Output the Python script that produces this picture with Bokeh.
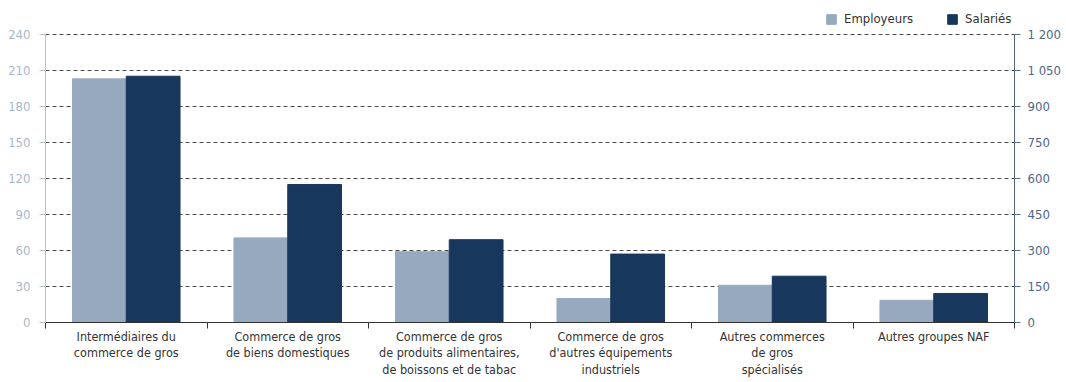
from bokeh.plotting import figure
from bokeh.models import Range1d, LinearAxis, FixedTicker, Legend, LegendItem
from bokeh.embed import file_html
from bokeh.resources import INLINE

categories = [
    "Intermédiaires du\ncommerce de gros",
    "Commerce de gros\nde biens domestiques",
    "Commerce de gros\nde produits alimentaires,\nde boissons et de tabac",
    "Commerce de gros\nd'autres équipements\nindustriels",
    "Autres commerces\nde gros\nspécialisés",
    "Autres groupes NAF",
]
employeurs = [203, 70.5, 59, 20, 31, 18.5]
salaries = [1026, 575, 345, 285, 193, 121]
left_ticks = [0, 30, 60, 90, 120, 150, 180, 210, 240]
right_ticks = [0, 150, 300, 450, 600, 750, 900, 1050, 1200]
right_labels = ["0", "150", "300", "450", "600", "750", "900", "1 050", "1 200"]

FONT = "DejaVu Sans Condensed"
FS = "13px"
FS_CAT = "12.5px"

n = len(categories)
centers = [i + 0.5 for i in range(n)]
bw = 0.333
top_left = 263.3           # headroom above 240 for the legend
top_right = top_left * 5   # right scale is 5x the left one

p = figure(width=1063, height=380, x_range=Range1d(0, n), y_range=Range1d(0, top_left),
           output_backend="svg", toolbar_location=None,
           min_border_left=45, min_border_right=40, min_border_top=6, min_border_bottom=10)
p.extra_y_ranges = {"right": Range1d(0, top_right)}
p.outline_line_color = None

r1 = p.vbar(x=[c - bw / 2 for c in centers], top=employeurs, width=bw, color="#97a9bf")
r2 = p.vbar(x=[c + bw / 2 for c in centers], top=salaries, width=bw, color="#17375c",
            y_range_name="right")

# grid
p.xgrid.visible = False
p.ygrid.ticker = FixedTicker(ticks=left_ticks[1:])
p.ygrid.grid_line_color = "#4a4a4a"
p.ygrid.grid_line_dash = "4 3"
p.ygrid.grid_line_width = 1

# left axis
ya = p.yaxis[0]
ya.ticker = FixedTicker(ticks=left_ticks)
ya.bounds = (0, 240)
ya.axis_line_color = "#b4c2d3"
ya.major_tick_line_color = "#b4c2d3"
ya.major_tick_out = 6
ya.major_tick_in = 0
ya.minor_tick_out = 0
ya.minor_tick_in = 0
ya.major_label_text_color = "#a9b7ca"
ya.major_label_text_font = FONT
ya.major_label_text_font_size = FS
ya.major_label_standoff = 9

# right axis
ra = LinearAxis(y_range_name="right", ticker=FixedTicker(ticks=right_ticks), bounds=(0, 1200))
ra.major_label_overrides = {t: l for t, l in zip(right_ticks, right_labels)}
ra.axis_line_color = "#4f6787"
ra.major_tick_line_color = "#4f6787"
ra.major_tick_out = 6
ra.major_tick_in = 0
ra.minor_tick_out = 0
ra.minor_tick_in = 0
ra.major_label_text_color = "#4f6787"
ra.major_label_text_font = FONT
ra.major_label_text_font_size = FS
ra.major_label_standoff = 7
p.add_layout(ra, "right")

# bottom axis: labels at category centres, ticks at category boundaries
xa = p.xaxis[0]
xa.ticker = FixedTicker(ticks=centers, minor_ticks=list(range(n + 1)))
xa.major_label_overrides = {c: lab for c, lab in zip(centers, categories)}
xa.axis_line_color = "#333333"
xa.major_tick_out = 0
xa.major_tick_in = 0
xa.minor_tick_out = 6
xa.minor_tick_in = 0
xa.minor_tick_line_color = "#333333"
xa.major_label_text_color = "#333333"
xa.major_label_text_font = FONT
xa.major_label_text_font_size = FS_CAT
xa.major_label_text_line_height = 1.12
xa.major_label_standoff = 0

legend = Legend(items=[LegendItem(label="Employeurs", renderers=[r1]),
                       LegendItem(label="Salariés", renderers=[r2])],
                orientation="horizontal", location=(780, 296),
                border_line_color=None, background_fill_alpha=0,
                glyph_width=12, glyph_height=12, label_standoff=7, spacing=33,
                label_height=12, padding=0, margin=0,
                label_text_font=FONT, label_text_font_size=FS, label_text_color="#333333")
p.add_layout(legend)

open("out.html", "w").write(file_html(p, INLINE))
